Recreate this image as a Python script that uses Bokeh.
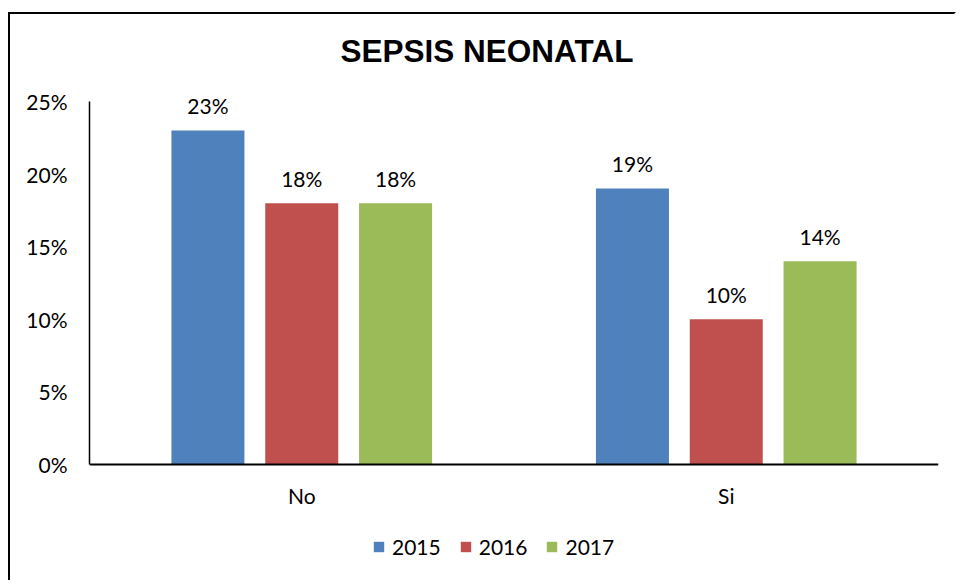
from bokeh.plotting import figure
from bokeh.models import (ColumnDataSource, FactorRange, Range1d, NumeralTickFormatter,
                          LabelSet, Legend, LegendItem, FixedTicker)
from bokeh.transform import dodge
from bokeh.core.properties import value
from bokeh.embed import file_html
from bokeh.resources import INLINE

categories = ["No", "Si"]
years = ["2015", "2016", "2017"]
v2015 = [0.23, 0.19]
v2016 = [0.18, 0.10]
v2017 = [0.18, 0.14]
colors = ["#4F81BD", "#C0504D", "#9BBB59"]
y_ticks = [0, 0.05, 0.10, 0.15, 0.20, 0.25]

FONT = "Lato"
W, H = 948, 568
TOP, BOTTOM = 70, 2
axis_px = 363          # pixel height of the 0..25% axis
above_px = 17          # free room above the 25% tick (inside frame, for labels)
frame_h = H - TOP - BOTTOM
below_px = frame_h - axis_px - above_px
y_top = 0.25
per_px = y_top / axis_px
y_max = y_top + above_px * per_px
y_min = -below_px * per_px

p = figure(x_range=FactorRange(*categories, range_padding=0),
           y_range=Range1d(y_min, y_max),
           width=W, height=H, output_backend="svg", toolbar_location=None,
           min_border_left=79, min_border_right=20, min_border_top=TOP,
           min_border_bottom=BOTTOM)
p.styles = {"border-left": "2px solid black", "border-top": "2px solid black",
            "border-right": "2px solid white", "outline": "none",
            "margin-top": "12px", "margin-left": "8px"}
p.outline_line_color = None
p.xgrid.grid_line_color = None
p.ygrid.grid_line_color = None

src = ColumnDataSource(dict(cat=categories, v2015=v2015, v2016=v2016, v2017=v2017,
                            l2015=[f"{round(v*100)}%" for v in v2015],
                            l2016=[f"{round(v*100)}%" for v in v2016],
                            l2017=[f"{round(v*100)}%" for v in v2017]))

offsets = [-0.221, 0.0, 0.221]
items = []
for yr, off, col in zip(years, offsets, colors):
    r = p.vbar(x=dodge("cat", off, range=p.x_range), top="v" + yr, bottom=0,
               width=0.172, source=src, fill_color=col, line_color=None)
    items.append(LegendItem(label=yr, renderers=[r]))
    lbl = LabelSet(x=dodge("cat", off, range=p.x_range), y="v" + yr, text="l" + yr,
                   source=src, text_align="center", text_baseline="middle",
                   y_offset=25, text_font=value(FONT), text_font_size=value("21px"),
                   text_color="black")
    p.add_layout(lbl)

p.yaxis.ticker = FixedTicker(ticks=y_ticks)
p.yaxis.formatter = NumeralTickFormatter(format="0%")
p.yaxis.bounds = (0, y_top)
p.xaxis.fixed_location = 0
for ax in (p.xaxis[0], p.yaxis[0]):
    ax.major_tick_line_color = None
    ax.minor_tick_line_color = None
    ax.major_tick_out = 0
    ax.major_tick_in = 0
    ax.axis_line_color = "black"
    ax.major_label_text_font = FONT
    ax.major_label_text_font_size = "21px"
    ax.major_label_text_color = "black"
p.yaxis.axis_line_width = 1.5
p.xaxis.axis_line_width = 2
p.yaxis.major_label_standoff = 22
p.xaxis.major_label_standoff = 18

p.title.text = "SEPSIS NEONATAL"
p.title.align = "left"
p.title.offset = 251
p.title.standoff = 31
p.title.text_font = "Liberation Sans"
p.title.text_font_style = "bold"
p.title.text_font_size = "31.5px"
p.title.text_color = "black"

legend = Legend(items=items, orientation="horizontal", location=(283, 21),
                glyph_width=13, glyph_height=13, label_standoff=7, spacing=18,
                padding=0, margin=0, border_line_color=None,
                background_fill_alpha=0, label_text_font=FONT,
                label_text_font_size="21px", label_text_color="black")
p.add_layout(legend, "center")

open("out.html", "w").write(file_html(p, INLINE))
